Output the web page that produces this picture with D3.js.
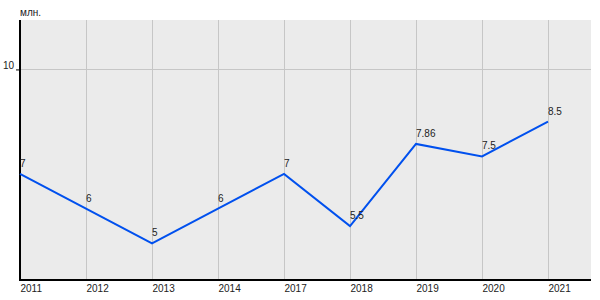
<!DOCTYPE html>
<html><head><meta charset="utf-8">
<script src="https://cdn.jsdelivr.net/npm/d3@7"></script>
<style>body{margin:0;background:#fff}svg{display:block}text{font-family:"Liberation Sans",Arial,sans-serif}</style>
</head><body><svg id="c" width="600" height="300"></svg>
<script>
const years = ["2011","2012","2013","2014","2017","2018","2019","2020","2021"];
const values = [7, 6, 5, 6, 7, 5.5, 7.86, 7.5, 8.5];
const valueLabels = ["7","6","5","6","7","5.5","7.86","7.5","8.5"];
const yTicks = [10];
const unitLabel = "млн.";

const svg = d3.select("#c");
const L = 20, R = 591, T = 20, B = 280;
const x = d3.scalePoint().domain(years).range([20, 548]);
const y = d3.scaleLinear().domain([3.95, 11.42]).range([B, T]);

svg.append("rect").attr("x", L).attr("y", T).attr("width", R - L).attr("height", B - T).attr("fill", "#ebebeb");

// vertical grid
svg.append("g").selectAll("line").data(years).join("line")
  .attr("x1", d => x(d) + 0.5).attr("x2", d => x(d) + 0.5).attr("y1", T).attr("y2", B)
  .attr("stroke", "#c6c6c6").attr("stroke-width", 1);
// horizontal grid
svg.append("g").selectAll("line").data(yTicks).join("line")
  .attr("x1", L).attr("x2", R).attr("y1", d => Math.round(y(d)) + 0.5).attr("y2", d => Math.round(y(d)) + 0.5)
  .attr("stroke", "#c6c6c6").attr("stroke-width", 1);

// y axis
const yAxis = d3.axisLeft(y).tickValues(yTicks).tickSize(4).tickPadding(2).tickFormat(d3.format("d"));
const gy = svg.append("g").attr("transform", `translate(${L},0)`).call(yAxis);
gy.select(".domain").remove();
gy.selectAll(".tick text").attr("font-size", 10).attr("fill", "#222").attr("dy", "-0.1em");
gy.selectAll(".tick line").attr("stroke", "#000");
svg.append("line").attr("x1", L).attr("x2", L).attr("y1", T).attr("y2", B + 1).attr("stroke", "#000").attr("stroke-width", 2);

// x axis
const xAxis = d3.axisBottom(x).tickSize(0).tickPadding(0);
const gx = svg.append("g").attr("transform", `translate(0,${B})`).call(xAxis);
gx.select(".domain").remove();
gx.selectAll(".tick text").attr("font-size", 10).attr("fill", "#222").attr("text-anchor", "start").attr("y", 5).attr("dy", "0.71em");
svg.append("line").attr("x1", L - 1).attr("x2", R).attr("y1", B).attr("y2", B).attr("stroke", "#000").attr("stroke-width", 2);

// unit
svg.append("text").attr("x", 20).attr("y", 16).attr("font-size", 10).attr("fill", "#222").text(unitLabel);

// line
const data = years.map((yr, i) => ({yr, v: values[i], lab: valueLabels[i]}));
svg.append("path").datum(data)
  .attr("d", d3.line().x(d => x(d.yr)).y(d => y(d.v)))
  .attr("fill", "none").attr("stroke", "#0050ee").attr("stroke-width", 2).attr("stroke-linejoin", "miter");

svg.append("g").selectAll("text").data(data).join("text")
  .attr("x", d => x(d.yr)).attr("y", d => y(d.v) - 7)
  .attr("font-size", 10).attr("fill", "#222").text(d => d.lab);
</script></body></html>
